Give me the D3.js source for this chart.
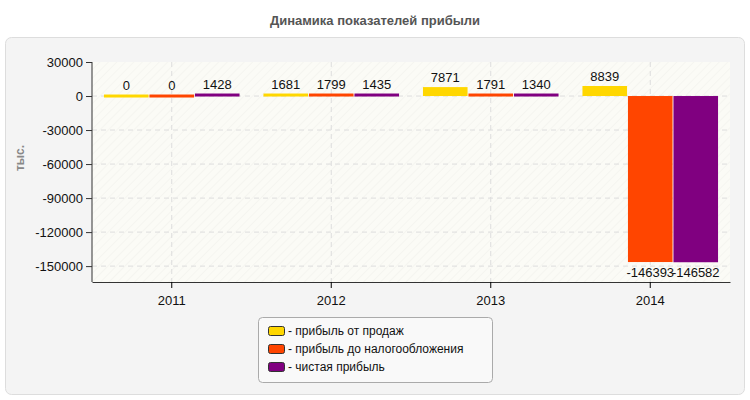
<!DOCTYPE html><html><head><meta charset="utf-8"><script src="https://cdn.jsdelivr.net/npm/d3@7"></script>
<style>body{margin:0;background:#fff;font-family:"Liberation Sans",Arial,sans-serif}</style></head><body><svg id="c" width="750" height="400" font-family="Liberation Sans, Arial, sans-serif"></svg>
<script>
const categories=["2011","2012","2013","2014"];
const seriesNames=["прибыль от продаж","прибыль до налогообложения","чистая прибыль"];
const colors=["#FFD700","#FF4500","#800080"];
const salesProfit=[0,1681,7871,8839];
const preTaxProfit=[0,1799,1791,-146393];
const netProfit=[1428,1435,1340,-146582];
const yTicks=[30000,0,-30000,-60000,-90000,-120000,-150000];
const series=[salesProfit,preTaxProfit,netProfit];
const F="Liberation Sans, Arial, sans-serif";
const svg=d3.select("#c");
svg.append("rect").attr("x",5.5).attr("y",37.5).attr("width",739).attr("height",357).attr("rx",6).attr("fill","#f4f4f4").attr("stroke","#dddddd");
svg.append("text").attr("x",375).attr("y",25).attr("text-anchor","middle").attr("font-size",13).attr("font-weight","bold").attr("fill","#555").text("Динамика показателей прибыли");
const L=92,R=730,T=62,B=282;
const defs=svg.append("defs");
const p=defs.append("pattern").attr("id","h").attr("width",6).attr("height",6).attr("patternUnits","userSpaceOnUse").attr("patternTransform","rotate(45)");
p.append("rect").attr("width",6).attr("height",6).attr("fill","#fbfbf6");
p.append("line").attr("x1",0).attr("y1",0).attr("x2",0).attr("y2",6).attr("stroke","#efefea").attr("stroke-width",1);
svg.append("rect").attr("x",L).attr("y",T).attr("width",R-L).attr("height",B-T).attr("fill","url(#h)");
const y=d3.scaleLinear().domain([-164000,30000]).range([B,T]);
const x=d3.scaleBand().domain(categories).range([L,R]).paddingInner(0.15).paddingOuter(0.075);
const xs=d3.scaleBand().domain(d3.range(3)).range([0,x.bandwidth()]).paddingInner(0.02);
yTicks.forEach(t=>{if(t!==30000)svg.append("line").attr("x1",L).attr("x2",R).attr("y1",y(t)).attr("y2",y(t)).attr("stroke","#ddd").attr("stroke-dasharray","5,4");});
categories.forEach(c=>svg.append("line").attr("x1",x(c)+x.bandwidth()/2).attr("x2",x(c)+x.bandwidth()/2).attr("y1",T).attr("y2",B).attr("stroke","#ddd").attr("stroke-dasharray","5,4"));
series.forEach((s,i)=>{
 const g=svg.append("g");
 s.forEach((v,j)=>{
  const bx=x(categories[j])+xs(i);
  let y0=y(Math.max(v,0)),h=Math.abs(y(v)-y(0));
  if(h<3){h=3;y0=y(0)-1.5-(v>0?1:0);}
  g.append("rect").attr("x",bx).attr("y",y0).attr("width",xs.bandwidth()).attr("height",h).attr("fill",colors[i]);
  g.append("text").attr("x",bx+xs.bandwidth()/2).attr("y",v>=0?y0-5:y(v)+15).attr("text-anchor","middle").attr("font-size",13).attr("fill","#111").text(v);
 });
});
const ya=svg.append("g").attr("transform",`translate(${L},0)`).call(d3.axisLeft(y).tickValues(yTicks).tickSize(6).tickFormat(d=>d));
ya.selectAll("text").attr("font-size",13).attr("fill","#111").attr("font-family",F);
ya.select(".domain").attr("d",`M-0,${T}V${B}`).attr("stroke","#333");
ya.selectAll(".tick line").attr("stroke","#333");
const xa=svg.append("g").attr("transform",`translate(0,${B})`).call(d3.axisBottom(x).tickSize(6).tickSizeOuter(0));
xa.selectAll("text").attr("font-size",13).attr("fill","#111").attr("dy","1.1em").attr("font-family",F);
xa.select(".domain").attr("stroke","#333");
svg.append("text").attr("transform","translate(24,158) rotate(-90)").attr("text-anchor","middle").attr("font-size",12).attr("font-weight","bold").attr("fill","#888").text("тыс.");
const lg=svg.append("g");
lg.append("rect").attr("x",258.5).attr("y",317.5).attr("width",234).attr("height",65).attr("rx",4).attr("fill","#f9f9f9").attr("stroke","#aaa");
seriesNames.forEach((n,i)=>{
 lg.append("rect").attr("x",268.5).attr("y",326.5+i*18).attr("width",16).attr("height",9).attr("rx",2).attr("fill",colors[i]).attr("stroke","#333");
 lg.append("text").attr("x",288).attr("y",335+i*18).attr("font-size",12).attr("fill","#111").text("- "+n);
});
</script></body></html>
